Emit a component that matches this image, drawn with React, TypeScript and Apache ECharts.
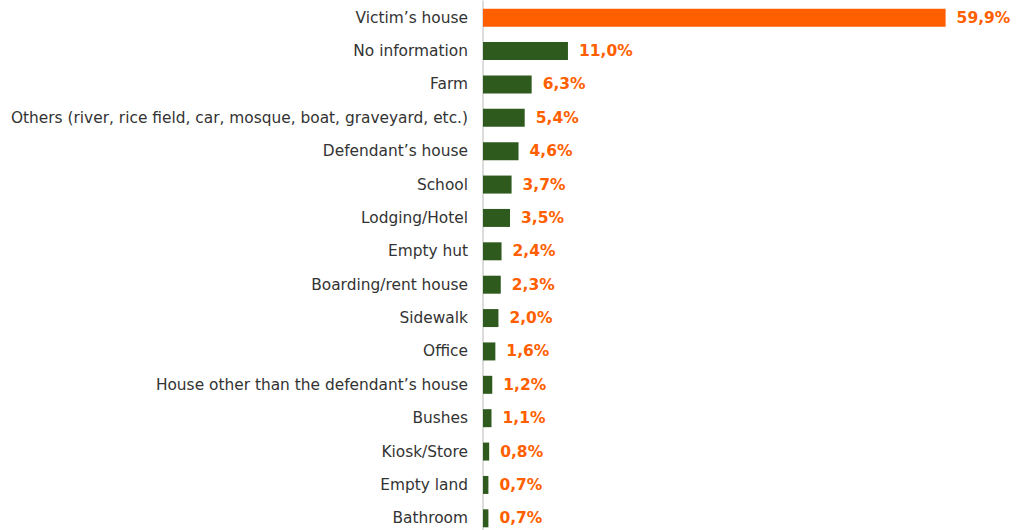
import React, { useEffect, useRef } from "react";
import * as echarts from "echarts";

const categories = [
  "Victim’s house",
  "No information",
  "Farm",
  "Others (river, rice field, car, mosque, boat, graveyard, etc.)",
  "Defendant’s house",
  "School",
  "Lodging/Hotel",
  "Empty hut",
  "Boarding/rent house",
  "Sidewalk",
  "Office",
  "House other than the defendant’s house",
  "Bushes",
  "Kiosk/Store",
  "Empty land",
  "Bathroom",
];

const values = [59.9, 11.0, 6.3, 5.4, 4.6, 3.7, 3.5, 2.4, 2.3, 2.0, 1.6, 1.2, 1.1, 0.8, 0.7, 0.7];

const ORANGE = "#FF5F00";
const GREEN = "#2F5A1E";

export default function App() {
  const ref = useRef<HTMLDivElement>(null);
  useEffect(() => {
    if (!ref.current) return;
    const chart = echarts.init(ref.current, null, { renderer: "svg" });
    chart.setOption({
      animation: false,
      grid: { left: 483, top: 1, bottom: 0, width: 502 },
      xAxis: {
        type: "value",
        min: 0,
        max: 65,
        show: false,
      },
      yAxis: {
        type: "category",
        data: categories,
        inverse: true,
        axisTick: { show: false },
        axisLine: { show: true, lineStyle: { color: "#d0d0d0", width: 1.5 } },
        axisLabel: {
          margin: 15,
          color: "#333333",
          fontFamily: "DejaVu Sans",
          fontSize: 15.4,
        },
      },
      series: [
        {
          type: "bar",
          barWidth: 18,
          data: values.map((v, i) => ({
            value: v,
            itemStyle: { color: i === 0 ? ORANGE : GREEN },
          })),
          label: {
            show: true,
            position: "right",
            distance: 11,
            color: ORANGE,
            fontFamily: "DejaVu Sans",
            fontWeight: "bold",
            fontSize: 15.5,
            formatter: (p: any) => p.value.toFixed(1).replace(".", ",") + "%",
          },
        },
      ],
    });
    return () => chart.dispose();
  }, []);
  return (
    <div style={{ position: "absolute", left: 0, top: 0, width: 1019, height: 530, overflow: "hidden" }}>
      <div ref={ref} style={{ width: 1019, height: 535 }} />
    </div>
  );
}
